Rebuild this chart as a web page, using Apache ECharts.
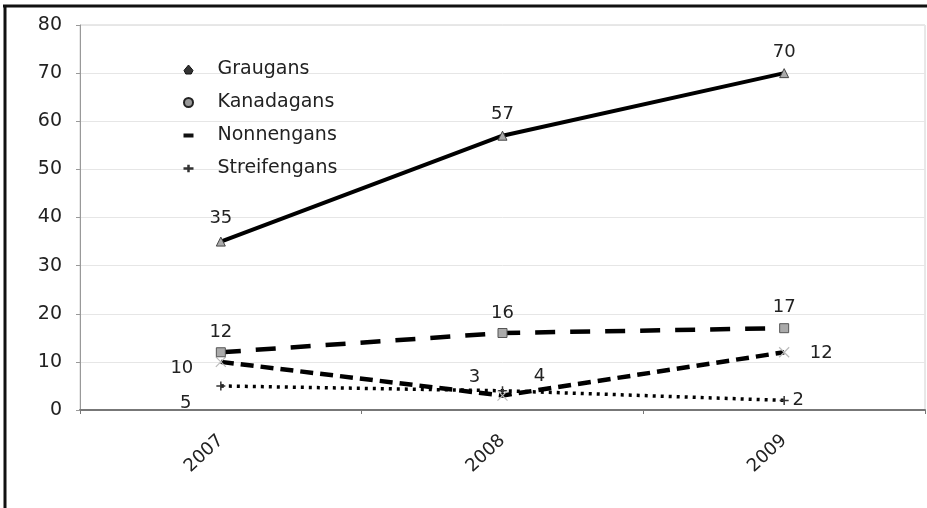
<!DOCTYPE html>
<html>
<head>
<meta charset="utf-8">
<script src="https://cdn.jsdelivr.net/npm/echarts@6/dist/echarts.min.js"></script>
<style>
html,body{margin:0;padding:0;background:#fff;}
#c{width:927px;height:508px;}
</style>
</head>
<body>
<div id="c"></div>
<script>
var years = ['2007', '2008', '2009'];
var graugans = [35, 57, 70];
var kanadagans = [12, 16, 17];
var nonnengans = [10, 3, 12];
var streifengans = [5, 4, 2];
var yTicks = [0, 10, 20, 30, 40, 50, 60, 70, 80];

var FONT = 'DejaVu Sans';
var TXT = '#222';

function withLabels(values, offsets) {
  return values.map(function (v, i) {
    return { value: v, label: { offset: offsets[i] } };
  });
}
var labelBase = { show: true, position: 'inside', color: TXT, fontFamily: FONT, fontSize: 18 };

var chart = echarts.init(document.getElementById('c'), null, { renderer: 'canvas' });
chart.setOption({
  backgroundColor: '#fff',
  animation: false,
  grid: { left: 80, right: 2, top: 25, bottom: 98, show: true, borderColor: '#d0d0d0', borderWidth: 1 },
  legend: {
    orient: 'vertical',
    left: 178,
    top: 55,
    itemWidth: 10,
    itemHeight: 9,
    itemGap: 14,
    symbolKeepAspect: true,
    textStyle: { color: TXT, fontFamily: FONT, fontSize: 19, padding: [0, 0, 0, 19] },
    data: [
      { name: 'Graugans', icon: 'path://M5,0L10,6L8,10L2,10L0,6Z', itemStyle: { color: '#333', borderColor: '#111', borderWidth: 1 } },
      { name: 'Kanadagans', icon: 'circle', itemStyle: { color: '#999', borderColor: '#222', borderWidth: 2 } },
      { name: 'Nonnengans', icon: 'path://M0,0L10,0L10,4L0,4Z', itemStyle: { color: '#111', borderWidth: 0 } },
      { name: 'Streifengans', icon: 'path://M0,2L3,2L3,0L5,0L5,2L8,2L8,4L5,4L5,6L3,6L3,4L0,4Z', itemStyle: { color: '#333', borderWidth: 0 } }
    ]
  },
  xAxis: {
    type: 'category',
    data: years,
    boundaryGap: true,
    axisLine: { show: true, lineStyle: { color: '#777', width: 2 } },
    axisTick: { show: true, length: 4, lineStyle: { color: '#777' } },
    axisLabel: { rotate: 43, margin: 28, color: TXT, fontFamily: FONT, fontSize: 18 },
    splitLine: { show: false }
  },
  yAxis: {
    type: 'value',
    min: yTicks[0],
    max: yTicks[yTicks.length - 1],
    interval: yTicks[1] - yTicks[0],
    axisLine: { show: true, lineStyle: { color: '#999', width: 1 } },
    axisTick: { show: true, length: 4, lineStyle: { color: '#999' } },
    axisLabel: { margin: 18, color: TXT, fontFamily: FONT, fontSize: 19 },
    splitLine: { show: true, lineStyle: { color: '#e6e6e6', width: 1 } }
  },
  series: [
    {
      name: 'Graugans', type: 'line',
      data: withLabels(graugans, [[0, -23], [0, -21], [0, -21]]),
      symbol: 'triangle', symbolSize: 9,
      lineStyle: { color: '#000', width: 4, type: 'solid' },
      itemStyle: { color: '#aaa', borderColor: '#444', borderWidth: 1 },
      label: labelBase, z: 5
    },
    {
      name: 'Kanadagans', type: 'line',
      data: withLabels(kanadagans, [[0, -20], [0, -20], [0, -21]]),
      symbol: 'rect', symbolSize: 9,
      lineStyle: { color: '#000', width: 4.5, type: [20, 15] },
      itemStyle: { color: '#aaa', borderColor: '#555', borderWidth: 1 },
      label: labelBase, z: 4
    },
    {
      name: 'Nonnengans', type: 'line',
      data: withLabels(nonnengans, [[-39, 6], [-28, -18], [37, 1]]),
      symbol: 'path://M0,0L10,10M10,0L0,10', symbolSize: 10,
      lineStyle: { color: '#000', width: 4.5, type: [13, 7] },
      itemStyle: { color: '#000', borderColor: '#bbb', borderWidth: 1.2 },
      label: labelBase, z: 3
    },
    {
      name: 'Streifengans', type: 'line',
      data: withLabels(streifengans, [[-35, 17], [37, -14], [14, 0]]),
      symbol: 'path://M5,0L5,10M0,5L10,5', symbolSize: 9,
      lineStyle: { color: '#000', width: 3.5, type: [3, 5] },
      itemStyle: { color: '#000', borderColor: '#333', borderWidth: 1.5 },
      label: labelBase, z: 2
    }
  ],
  graphic: [
    { type: 'line', shape: { x1: 3, y1: 6, x2: 927, y2: 6 }, style: { stroke: '#111', lineWidth: 3 } },
    { type: 'line', shape: { x1: 5, y1: 5, x2: 5, y2: 508 }, style: { stroke: '#111', lineWidth: 3 } }
  ]
});
</script>
</body>
</html>
